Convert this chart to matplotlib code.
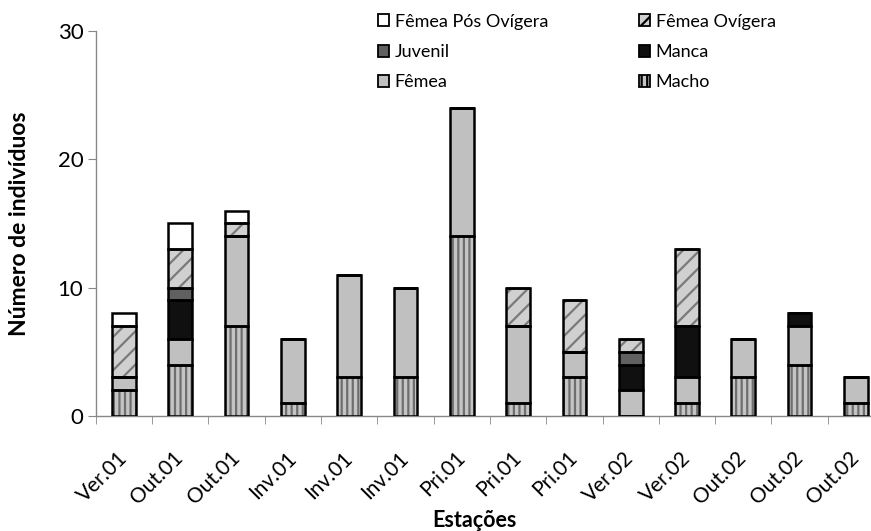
import numpy as np
import matplotlib.pyplot as plt
from matplotlib.patches import Patch
from matplotlib.transforms import ScaledTranslation

plt.rcParams['font.family'] = ['Lato', 'DejaVu Sans']
plt.rcParams['hatch.linewidth'] = 1.6

estacoes = ['Ver.01', 'Out.01', 'Out.01', 'Inv.01', 'Inv.01', 'Inv.01', 'Pri.01',
            'Pri.01', 'Pri.01', 'Ver.02', 'Ver.02', 'Out.02', 'Out.02', 'Out.02']

macho = [2, 4, 7, 1, 3, 3, 14, 1, 3, 0, 1, 3, 4, 1]
femea = [1, 2, 7, 5, 8, 7, 10, 6, 2, 2, 2, 3, 3, 2]
manca = [0, 3, 0, 0, 0, 0, 0, 0, 0, 2, 4, 0, 1, 0]
juvenil = [0, 1, 0, 0, 0, 0, 0, 0, 0, 1, 0, 0, 0, 0]
femea_ovigera = [4, 3, 1, 0, 0, 0, 0, 3, 4, 1, 6, 0, 0, 0]
femea_pos_ovigera = [1, 2, 1, 0, 0, 0, 0, 0, 0, 0, 0, 0, 0, 0]

# (nome, valores, cor, hachura, cor da hachura)
series = [
    ('Macho', macho, '#c4c4c4', '|||', '#6e6e6e'),
    ('Fêmea', femea, '#c0c0c0', None, None),
    ('Manca', manca, '#101010', None, None),
    ('Juvenil', juvenil, '#606060', None, None),
    ('Fêmea Ovígera', femea_ovigera, '#d0d0d0', '//', '#7a7a7a'),
    ('Fêmea Pós Ovígera', femea_pos_ovigera, '#ffffff', None, None),
]

fig = plt.figure(figsize=(8.71, 5.31), dpi=100)
ax = fig.add_axes([0.110, 0.2166, 0.905, 0.725])

x = np.arange(len(estacoes))
w = 0.42
base = np.zeros(len(estacoes))
handles = {}
for nome, vals, cor, hatch, hcor in series:
    vals = np.array(vals, dtype=float)
    if hatch:
        ax.bar(x, vals, w, bottom=base, color=cor, hatch=hatch, edgecolor=hcor,
               linewidth=0, zorder=2)
    else:
        ax.bar(x, vals, w, bottom=base, color=cor, linewidth=0, zorder=2)
    ax.bar(x, vals, w, bottom=base, fill=False, edgecolor='black',
           linewidth=1.8, zorder=3)
    handles[nome] = Patch(facecolor=cor, hatch=hatch, edgecolor='black', linewidth=1.3)
    base += vals

ax.set_xlim(-0.5, len(estacoes) - 0.5)
ax.set_ylim(0, 30)
ax.set_yticks([0, 10, 20, 30])
ax.set_xticks(x)
ax.set_xticklabels(estacoes, rotation=45, ha='right', va='center',
                   rotation_mode='anchor', fontsize=15)
desloc = ScaledTranslation(4 / 100, 0, fig.dpi_scale_trans)
for lab in ax.get_xticklabels():
    lab.set_transform(lab.get_transform() + desloc)
ax.set_xticks(np.arange(-0.5, len(estacoes), 1), minor=True)
ax.tick_params(axis='x', which='major', length=0, pad=28)
ax.tick_params(axis='x', which='minor', length=6, color='#888888', direction='out')
ax.tick_params(axis='y', length=6, color='#888888', labelsize=16, pad=3)

for s in ['top', 'right']:
    ax.spines[s].set_visible(False)
for s in ['left', 'bottom']:
    ax.spines[s].set_color('#888888')
    ax.spines[s].set_linewidth(1)

ax.set_ylabel('Número de indivíduos', fontsize=16.5, fontweight='bold')
ax.yaxis.set_label_coords(-0.084, 0.5)
ax.set_xlabel('Estações', fontsize=15.5, fontweight='bold')
ax.xaxis.set_label_coords(0.48, -0.245)

ordem = ['Fêmea Pós Ovígera', 'Juvenil', 'Fêmea', 'Fêmea Ovígera', 'Manca', 'Macho']
fig.legend([handles[n] for n in ordem], ordem, ncol=2, frameon=False,
           loc='upper left', bbox_to_anchor=(0.415, 1.005), fontsize=13,
           handlelength=0.65, handleheight=0.65, handletextpad=0.3,
           columnspacing=5.0, labelspacing=0.8)

fig.savefig('out.png', dpi=100)
